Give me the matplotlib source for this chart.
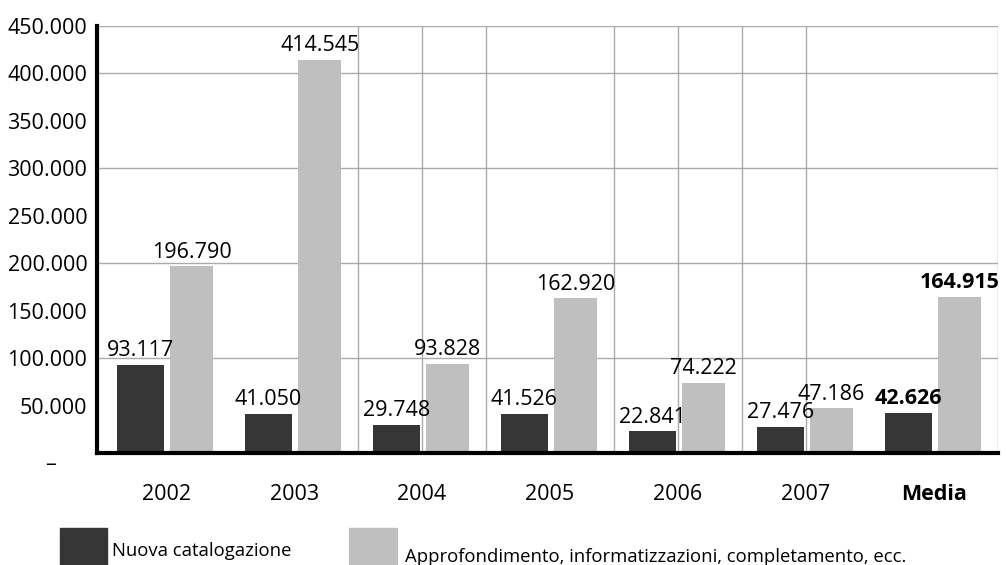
import matplotlib.pyplot as plt
import numpy as np
from matplotlib.patches import Rectangle

plt.rcParams['font.family'] = ['Open Sans', 'DejaVu Sans']

# data
categories = ['2002', '2003', '2004', '2005', '2006', '2007', 'Media']
nuova = [93117, 41050, 29748, 41526, 22841, 27476, 42626]
approf = [196790, 414545, 93828, 162920, 74222, 47186, 164915]
legend_labels = ['Nuova catalogazione',
                 'Approfondimento, informatizzazioni, completamento, ecc.']
yticks = [0, 50000, 100000, 150000, 200000, 250000, 300000, 350000, 400000, 450000]

dark = '#363636'
light = '#bfbfbf'
fs = 15.5


def fmt(v):
    if v == 0:
        return ''
    return '{:,}'.format(v).replace(',', '.')


fig = plt.figure(figsize=(10.06, 5.65), dpi=100)
ax = fig.add_axes([0.0964, 0.198, 0.8956, 0.756])

x = np.arange(len(categories))
ax.bar(x - 0.2, nuova, width=0.37, color=dark, zorder=3)
ax.bar(x + 0.2, approf, width=0.335, color=light, zorder=3)

# gridlines (as in the original, irregular)
for gx in [1.5, 2.0, 2.5, 3.5, 4.0, 4.5, 5.0, 6.5]:
    ax.axvline(gx, color='#aaaaaa', lw=1, zorder=1)
for gy in [100000, 200000, 300000, 400000, 450000]:
    ax.axhline(gy, color='#aaaaaa', lw=1, zorder=1)

# value labels
for i in range(len(categories)):
    w = 'bold' if categories[i] == 'Media' else 'normal'
    ax.text(x[i] - 0.2, nuova[i] + 4000, fmt(nuova[i]), ha='center', va='bottom',
            fontsize=fs, fontweight=w, zorder=4)
    ax.text(x[i] + 0.2, approf[i] + 4000, fmt(approf[i]), ha='center', va='bottom',
            fontsize=fs, fontweight=w, zorder=4)

ax.set_xlim(-0.54, 6.5)
ax.set_ylim(0, 450000)
ax.set_yticks(yticks)
ax.set_yticklabels([fmt(v) for v in yticks], fontsize=fs)
ax.text(-0.052, -1000, '–', transform=ax.get_yaxis_transform(), ha='center',
        va='top', fontsize=fs)
ax.set_xticks(x)
ax.set_xticklabels(categories, fontsize=fs)
ax.get_xticklabels()[-1].set_fontweight('bold')
ax.tick_params(axis='both', length=0)
ax.tick_params(axis='x', pad=22)
ax.tick_params(axis='y', pad=7)

for s in ['top', 'right']:
    ax.spines[s].set_visible(False)
ax.spines['left'].set_linewidth(3)
ax.spines['bottom'].set_linewidth(3)
ax.spines['left'].set_zorder(5)
ax.spines['bottom'].set_zorder(5)

# legend
fig.patches.append(Rectangle((60 / 1006, -0.02), 47 / 1006, 37 / 565 + 0.02,
                             transform=fig.transFigure, color=dark))
fig.text(112 / 1006, 1 - 551 / 565, legend_labels[0], fontsize=13.3, va='center')
fig.patches.append(Rectangle((349 / 1006, -0.02), 48 / 1006, 37 / 565 + 0.02,
                             transform=fig.transFigure, color=light))
fig.text(405 / 1006, 1 - 557 / 565, legend_labels[1], fontsize=13.3, va='center')

fig.savefig('out.png', dpi=100)
